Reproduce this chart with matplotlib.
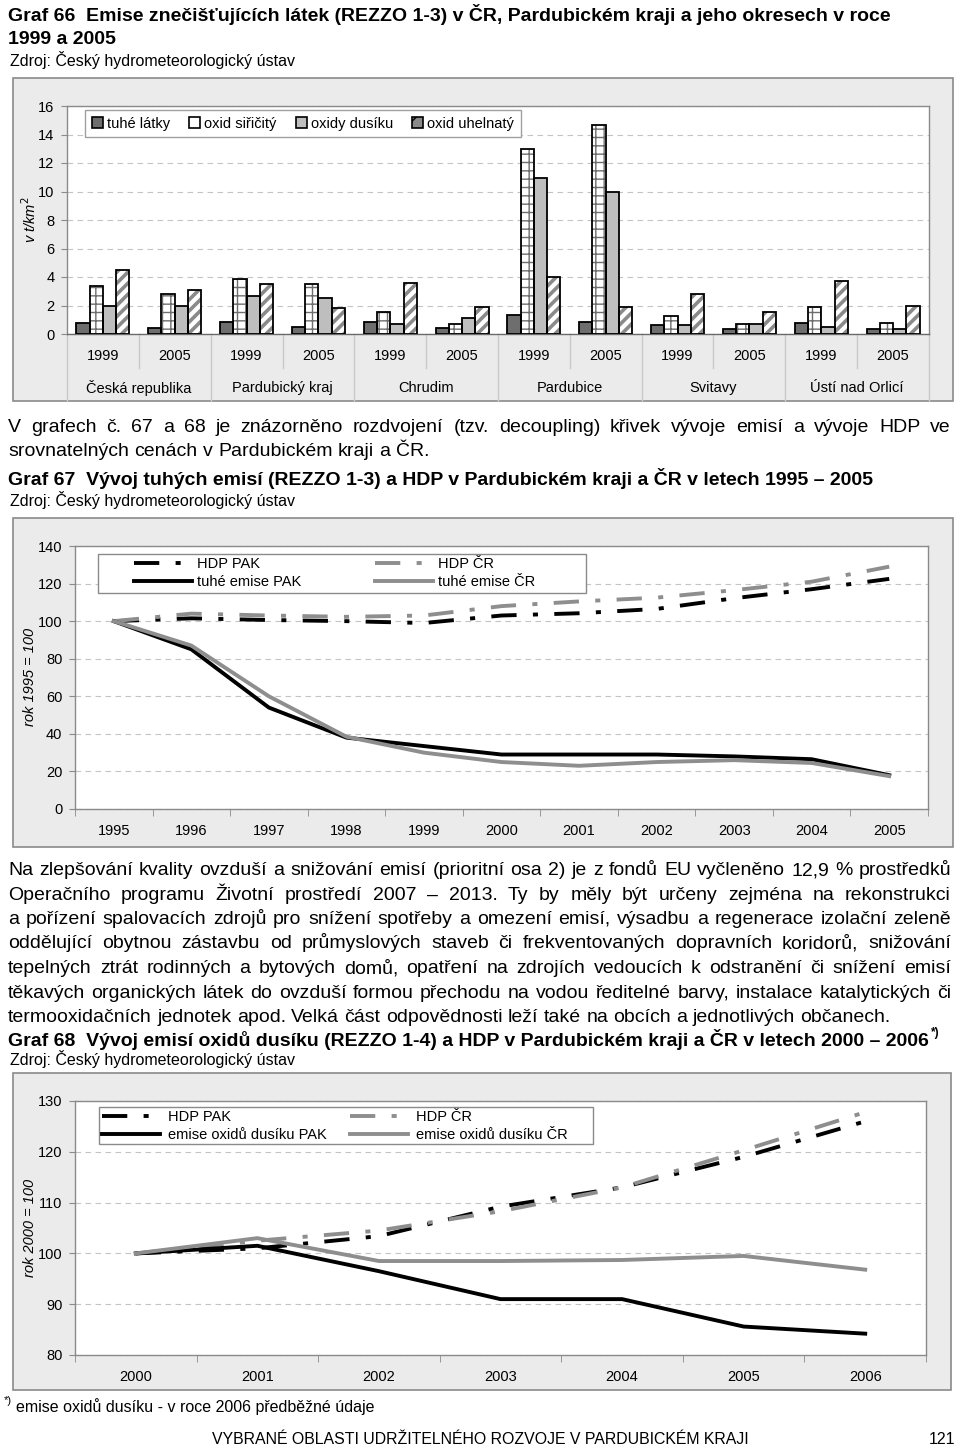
import numpy as np
import matplotlib
matplotlib.use('Agg')
import matplotlib.pyplot as plt
from matplotlib.patches import Rectangle, Patch

W, H = 960, 1451

# Graf 66 - emise v t/km2
regions = ['Česká republika', 'Pardubický kraj', 'Chrudim', 'Pardubice', 'Svitavy', 'Ústí nad Orlicí']
years66 = ['1999', '2005']
tuhe_latky = [0.75, 0.45, 0.85, 0.5, 0.82, 0.4, 1.3, 0.82, 0.63, 0.38, 0.8, 0.38]
oxid_siricity = [3.38, 2.8, 3.85, 3.5, 1.53, 0.68, 13.0, 14.7, 1.27, 0.68, 1.88, 0.8]
oxidy_dusiku = [2.0, 2.0, 2.68, 2.56, 0.7, 1.15, 10.96, 10.0, 0.6, 0.68, 0.52, 0.33]
oxid_uhelnaty = [4.5, 3.1, 3.5, 1.85, 3.6, 1.92, 4.0, 1.88, 2.8, 1.55, 3.75, 2.0]

# Graf 67 - rok 1995 = 100
years67 = ['1995', '1996', '1997', '1998', '1999', '2000', '2001', '2002', '2003', '2004', '2005']
hdp_pak67 = [100, 101.5, 100.6, 100, 99, 103, 104.2, 106.5, 112.2, 117, 122.5]
hdp_cr67 = [100, 104, 103, 102.3, 103, 108, 110.5, 112.5, 116.5, 121, 129]
tuhe_pak67 = [100, 85, 54, 38, 33.5, 29, 29, 29, 28, 26.5, 18]
tuhe_cr67 = [100, 87, 60, 38.5, 30, 25, 23, 25, 26, 24.5, 17.5]

# Graf 68 - rok 2000 = 100
years68 = ['2000', '2001', '2002', '2003', '2004', '2005', '2006']
hdp_pak68 = [100, 101, 103.4, 109.2, 113, 119, 126]
hdp_cr68 = [100, 102.5, 104.5, 108.3, 113, 120.3, 127.8]
nox_pak68 = [100, 101.5, 96.5, 91, 91, 85.6, 84.2]
nox_cr68 = [100, 103, 98.5, 98.5, 98.7, 99.5, 96.8]

para1 = ['V grafech č. 67 a 68 je znázorněno rozdvojení (tzv. decoupling) křivek vývoje emisí a vývoje HDP ve',
         'srovnatelných cenách v Pardubickém kraji a ČR.']
para2 = ['Na zlepšování kvality ovzduší a snižování emisí (prioritní osa 2) je z fondů EU vyčleněno 12,9 % prostředků',
         'Operačního programu Životní prostředí 2007 – 2013. Ty by měly být určeny zejména na rekonstrukci',
         'a pořízení spalovacích zdrojů pro snížení spotřeby a omezení emisí, výsadbu a regenerace izolační zeleně',
         'oddělující obytnou zástavbu od průmyslových staveb či frekventovaných dopravních koridorů, snižování',
         'tepelných ztrát rodinných a bytových domů, opatření na zdrojích vedoucích k odstranění či snížení emisí',
         'těkavých organických látek do ovzduší formou přechodu na vodou ředitelné barvy, instalace katalytických či',
         'termooxidačních jednotek apod. Velká část odpovědnosti leží také na obcích a jednotlivých občanech.']

# all texts are latin/czech, one family is enough (no fallback chain)
plt.rcParams['font.family'] = 'Liberation Sans'
plt.rcParams['hatch.linewidth'] = 1.0

FS_TITLE = 14.0
FS_SRC = 11.5
FS_TICK = 10.5
GRID = dict(color='#c4c4c4', lw=0.8, ls=(0, (5, 4)))
DASH = (0, (6.5, 4.2, 1.3, 4.2))
GRAY = '#8e8e8e'
X0, X1 = 8, 951

fig = plt.figure(figsize=(W / 100, H / 100), dpi=100)
rend = fig.canvas.get_renderer()


def fx(px):
    return px / W


def fy(py):
    return 1 - py / H


def text(x, y, s, **kw):
    return fig.text(fx(x), fy(y), s, va=kw.pop('va', 'baseline'), **kw)


def width_of(s, **kw):
    t = fig.text(0, 0, s, **kw)
    w = t.get_window_extent(rend).width
    t.remove()
    return w


# body font: 14 pt unless the tightest line would not fit
full_lines = [para1[0]] + para2[:-1]
FS_BODY = min(14.0, 14.0 * (X1 - X0 - 4) / max(width_of(l, size=14.0) for l in full_lines))


def justify(line, y, size, last=False):
    words = line.split(' ')
    tt = [text(X0, y, w, size=size) for w in words]
    ws = [t.get_window_extent(rend).width for t in tt]
    if last or len(words) < 2:
        gap = width_of('a a', size=size) - width_of('aa', size=size)
    else:
        gap = (X1 - X0 - sum(ws)) / (len(ws) - 1)
    x = X0
    for t, w in zip(tt, ws):
        t.set_x(fx(x))
        x += w + gap


def box(x0, y0, x1, y1):
    fig.patches.append(Rectangle((fx(x0), fy(y1)), (x1 - x0) / W, (y1 - y0) / H,
                                 transform=fig.transFigure, facecolor='#ebebeb',
                                 edgecolor='#8a8a8a', lw=1.2, zorder=-5))


def axes_px(x0, y0, x1, y1):
    ax = fig.add_axes([fx(x0), fy(y1), (x1 - x0) / W, (y1 - y0) / H])
    ax.set_facecolor('white')
    for s in ax.spines.values():
        s.set_color('#8a8a8a')
        s.set_linewidth(1.0)
    ax.tick_params(axis='y', labelsize=FS_TICK, length=4, color='#8a8a8a', pad=5)
    ax.yaxis.grid(True, **GRID)
    ax.set_axisbelow(True)
    return ax


# ---------------- texts ----------------
text(X0, 21, 'Graf 66  Emise znečišťujících látek (REZZO 1-3) v ČR, Pardubickém kraji a jeho okresech v roce',
     size=FS_TITLE, weight='bold')
text(X0, 44, '1999 a 2005', size=FS_TITLE, weight='bold')
text(10, 66, 'Zdroj: Český hydrometeorologický ústav', size=FS_SRC)

justify(para1[0], 432, FS_BODY)
justify(para1[1], 456, FS_BODY, last=True)

text(X0, 485, 'Graf 67  Vývoj tuhých emisí (REZZO 1-3) a HDP v Pardubickém kraji a ČR v letech 1995 – 2005',
     size=FS_TITLE, weight='bold')
text(10, 506, 'Zdroj: Český hydrometeorologický ústav', size=FS_SRC)

for i, ln in enumerate(para2):
    justify(ln, 875 + 24.5 * i, FS_BODY, last=(i == len(para2) - 1))

t68 = 'Graf 68  Vývoj emisí oxidů dusíku (REZZO 1-4) a HDP v Pardubickém kraji a ČR v letech 2000 – 2006'
text(X0, 1046, t68, size=FS_TITLE, weight='bold')
text(X0 + width_of(t68, size=FS_TITLE, weight='bold') + 2, 1036, '*)', size=8.5, weight='bold')
text(10, 1065, 'Zdroj: Český hydrometeorologický ústav', size=FS_SRC)

text(4, 1404, '*)', size=8)
text(16, 1412, 'emise oxidů dusíku - v roce 2006 předběžné údaje', size=FS_SRC)
text(480, 1444, 'VYBRANÉ OBLASTI UDRŽITELNÉHO ROZVOJE V PARDUBICKÉM KRAJI', size=11.4, ha='center')
text(955, 1444, '121', size=11.4, ha='right')

# ---------------- Graf 66 ----------------
box(13, 78, 953, 401)
ax1 = axes_px(67, 106, 929, 334)
ax1.spines['bottom'].set_color('#6a6a6a')
n = len(tuhe_latky)
x = np.arange(n)
bw = 0.185
series66 = [
    ('tuhé látky', tuhe_latky, '#6e6e6e', None, None),
    ('oxid siřičitý', oxid_siricity, 'white', '++', '#6e6e6e'),
    ('oxidy dusíku', oxidy_dusiku, '#bebebe', None, None),
    ('oxid uhelnatý', oxid_uhelnaty, 'white', '///', '#8a8a8a'),
]
handles = []
for k, (name, vals, fc, hatch, hc) in enumerate(series66):
    xs = x + (k - 1.5) * bw
    bars = ax1.bar(xs, vals, bw, color=fc, edgecolor=hc if hc else fc, lw=0, hatch=hatch, zorder=2)
    if hatch == '///':
        for b in bars:
            if hasattr(b, 'set_hatch_linewidth'):
                b.set_hatch_linewidth(2.6)
    ax1.bar(xs, vals, bw, facecolor='none', edgecolor='black', lw=1.3, zorder=3)
    if hatch == '///':
        handles.append(Patch(facecolor='#8a8a8a', edgecolor='black', hatch='//', lw=1.2, label=name))
    else:
        handles.append(Patch(facecolor=fc, edgecolor='black', lw=1.2, label=name))

ax1.set_xlim(-0.5, n - 0.5)
ax1.set_ylim(0, 16)
ax1.set_yticks(np.arange(0, 17, 2))
ax1.set_xticks([])
xt = ax1.get_xaxis_transform()
for b in range(n + 1):
    low = -0.294 if b % 2 == 0 else -0.149
    ax1.plot([b - 0.5, b - 0.5], [0, low], transform=xt, color='#c8c8c8', lw=1.0, clip_on=False)
for i in range(n):
    ax1.text(i, -0.097, years66[i % 2], transform=xt, ha='center', va='center', size=FS_TICK)
for j, reg in enumerate(regions):
    ax1.text(2 * j + 0.5, -0.237, reg, transform=xt, ha='center', va='center', size=FS_TICK)
leg1 = ax1.legend(handles=handles, ncol=4, loc='upper left',
                  bbox_to_anchor=(fx(85), fy(110)), bbox_transform=fig.transFigure,
                  borderaxespad=0, fontsize=FS_TICK, handlelength=0.75, handleheight=0.75,
                  handletextpad=0.3, columnspacing=1.3, borderpad=0.45, fancybox=False,
                  edgecolor='#a0a0a0', framealpha=1)
leg1.get_frame().set_linewidth(1.0)
text(30, 220, 'v t/km$^2$', size=FS_TICK, style='italic', rotation=90, ha='center', va='center')


# ---------------- line charts ----------------
def line_chart(ax, labels, pak_hdp, cr_hdp, pak_em, cr_em, ylim, step):
    xs = np.arange(len(labels))
    l1, = ax.plot(xs, pak_hdp, color='black', lw=2.8, ls=DASH, zorder=3)
    l2, = ax.plot(xs, cr_hdp, color=GRAY, lw=2.8, ls=DASH, zorder=3)
    l3, = ax.plot(xs, pak_em, color='black', lw=2.8, zorder=3, solid_joinstyle='round')
    l4, = ax.plot(xs, cr_em, color=GRAY, lw=2.8, zorder=4, solid_joinstyle='round')
    ax.set_xlim(-0.5, len(labels) - 0.5)
    ax.set_ylim(*ylim)
    ax.set_yticks(np.arange(ylim[0], ylim[1] + 1, step))
    ax.set_xticks(xs)
    ax.set_xticklabels(labels)
    ax.set_xticks(np.arange(-0.5, len(labels)), minor=True)
    ax.tick_params(axis='x', which='major', length=0, labelsize=FS_TICK, pad=11)
    ax.tick_params(axis='x', which='minor', length=5, color='#8a8a8a')
    return [l1, l3, l2, l4]


def line_legend(ax, handles, labels, frame, hx, top, col2x, pad_px):
    fpx = FS_TICK * 100 / 72
    hl = 58 / fpx
    tw = max(width_of(labels[0], size=FS_TICK), width_of(labels[1], size=FS_TICK))
    colsp = (col2x - hx - 58 - pad_px - tw) / fpx
    x0, y0, x1, y1 = frame
    ax.add_patch(Rectangle((fx(x0), fy(y1)), (x1 - x0) / W, (y1 - y0) / H, transform=fig.transFigure,
                           facecolor='white', edgecolor='#8a8a8a', lw=1.0, zorder=4.5))
    leg = ax.legend(handles, labels, ncol=2, loc='upper left', bbox_to_anchor=(fx(hx), fy(top)),
                    bbox_transform=fig.transFigure, borderaxespad=0, borderpad=0, frameon=False,
                    fontsize=FS_TICK, handlelength=hl, handletextpad=pad_px / fpx,
                    columnspacing=colsp, labelspacing=0.28)
    leg.set_zorder(5)


box(13, 518, 953, 847)
ax2 = axes_px(75, 546, 928, 809)
names67 = ['HDP PAK', 'tuhé emise PAK', 'HDP ČR', 'tuhé emise ČR']
h2 = line_chart(ax2, years67, hdp_pak67, hdp_cr67, tuhe_pak67, tuhe_cr67, (0, 140), 20)
line_legend(ax2, h2, names67, (98, 554, 586, 593), 134, 557, 375, 5)
text(30, 677, 'rok 1995 = 100', size=FS_TICK, style='italic', rotation=90, ha='center', va='center')

box(13, 1073, 951, 1390)
ax3 = axes_px(75, 1101, 926, 1355)
names68 = ['HDP PAK', 'emise oxidů dusíku PAK', 'HDP ČR', 'emise oxidů dusíku ČR']
h3 = line_chart(ax3, years68, hdp_pak68, hdp_cr68, nox_pak68, nox_cr68, (80, 130), 10)
line_legend(ax3, h3, names68, (99, 1107, 593, 1144), 102, 1110, 350, 8)
text(30, 1228, 'rok 2000 = 100', size=FS_TICK, style='italic', rotation=90, ha='center', va='center')

fig.savefig('out.png', dpi=100)
